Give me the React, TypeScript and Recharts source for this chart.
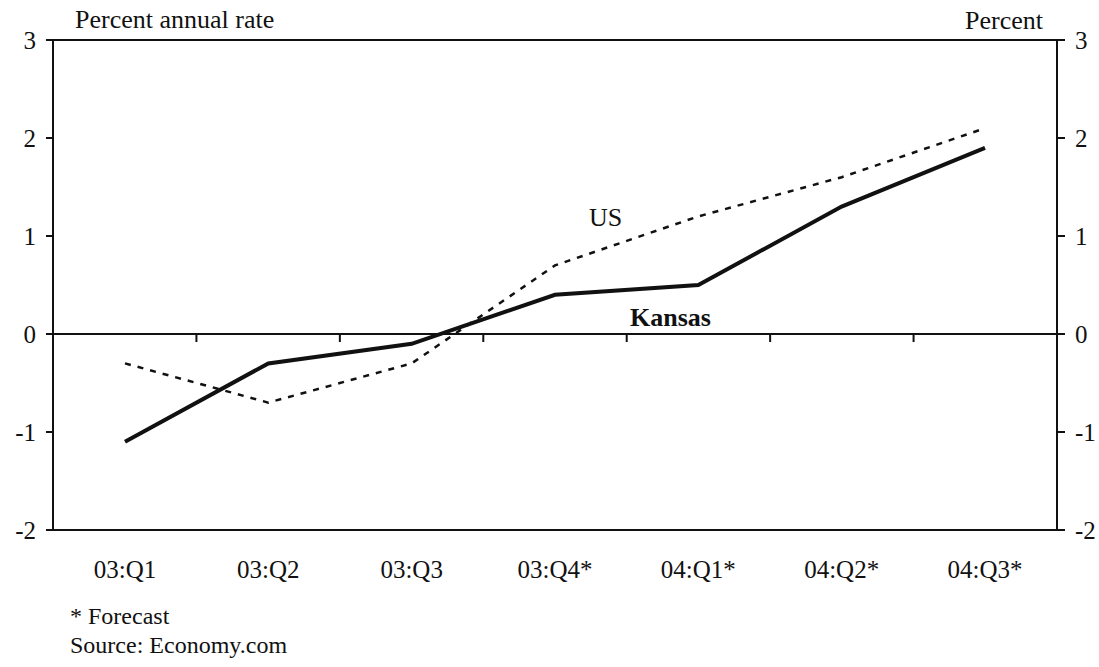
import {
    LineChart,
    Line,
    XAxis,
    YAxis,
    ReferenceLine,
} from "recharts"

// quarters on the x axis, * marks forecasts
const quarters = ["03:Q1", "03:Q2", "03:Q3", "03:Q4*", "04:Q1*", "04:Q2*", "04:Q3*"]

// percent annual rate
const kansas = [-1.1, -0.3, -0.1, 0.4, 0.5, 1.3, 1.9]
const us = [-0.3, -0.7, -0.3, 0.7, 1.2, 1.6, 2.1]

const yTicks = [-2, -1, 0, 1, 2, 3]

const data = quarters.map((q, i) => ({ q, kansas: kansas[i], us: us[i] }))

const serif = "'Liberation Serif', 'Times New Roman', serif"
const tickStyle = { fill: "#111", fontSize: 25, fontFamily: serif }

// zero line with small downward ticks between quarters
const ZeroLine = (props: any) => {
    const { x1, y1, x2, y2 } = props
    const n = quarters.length
    const step = (x2 - x1) / n
    const marks = []
    for (let i = 1; i < n; i++) {
        const x = x1 + step * i
        marks.push(<line key={i} x1={x} x2={x} y1={y1} y2={y1 + 8} stroke="#111" strokeWidth={2} />)
    }
    return (
        <g>
            <line x1={x1} y1={y1} x2={x2} y2={y2} stroke="#111" strokeWidth={2} />
            {marks}
        </g>
    )
}

const text = (extra: any) => ({
    position: "absolute" as const,
    fontFamily: serif,
    fontSize: 26,
    lineHeight: "24px",
    color: "#111",
    whiteSpace: "nowrap" as const,
    ...extra,
})

const note = (top: number) => text({ left: 70, top, fontSize: 24, lineHeight: "27px" })

export default function App() {
    return (
        <div style={{ position: "absolute", left: 0, top: 0, width: 1099, height: 667, background: "#fff" }}>

            <LineChart
                width={1099}
                height={667}
                data={data}
                margin={{ top: 40, right: 2, bottom: 107, left: 13 }}
            >
                <XAxis
                    dataKey="q"
                    padding={{ left: 72, right: 72 }}
                    height={30}
                    tickLine={false}
                    tickSize={0}
                    tickMargin={30}
                    axisLine={{ stroke: "#111", strokeWidth: 2 }}
                    tick={tickStyle}
                    interval={0}
                />
                <YAxis
                    yAxisId="left"
                    domain={[-2, 3]}
                    ticks={yTicks}
                    width={40}
                    tickSize={7}
                    tickMargin={10}
                    axisLine={{ stroke: "#111", strokeWidth: 2 }}
                    tickLine={{ stroke: "#111", strokeWidth: 2 }}
                    tick={tickStyle}
                />
                <YAxis
                    yAxisId="right"
                    orientation="right"
                    domain={[-2, 3]}
                    ticks={yTicks}
                    width={40}
                    tickSize={8}
                    tickMargin={10}
                    axisLine={{ stroke: "#111", strokeWidth: 2 }}
                    tickLine={{ stroke: "#111", strokeWidth: 2 }}
                    tick={tickStyle}
                />
                <ReferenceLine yAxisId="left" y={3} stroke="#111" strokeWidth={2} />
                <ReferenceLine yAxisId="left" y={0} shape={ZeroLine} />
                <Line
                    yAxisId="right"
                    dataKey="us"
                    stroke="#111"
                    strokeWidth={2.5}
                    strokeDasharray="6 7"
                    dot={false}
                    type="linear"
                    isAnimationActive={false}
                />
                <Line
                    yAxisId="left"
                    dataKey="kansas"
                    stroke="#111"
                    strokeWidth={4}
                    dot={false}
                    type="linear"
                    isAnimationActive={false}
                />
            </LineChart>

            <div style={text({ left: 75, top: 8 })}>Percent annual rate</div>
            <div style={text({ right: 56, top: 9 })}>Percent</div>
            <div style={text({ left: 589, top: 206 })}>US</div>
            <div style={text({ left: 630, top: 306, fontWeight: "bold" })}>Kansas</div>
            <div style={note(603)}>* Forecast</div>
            <div style={note(632)}>Source: Economy.com</div>

        </div>
    )
}
